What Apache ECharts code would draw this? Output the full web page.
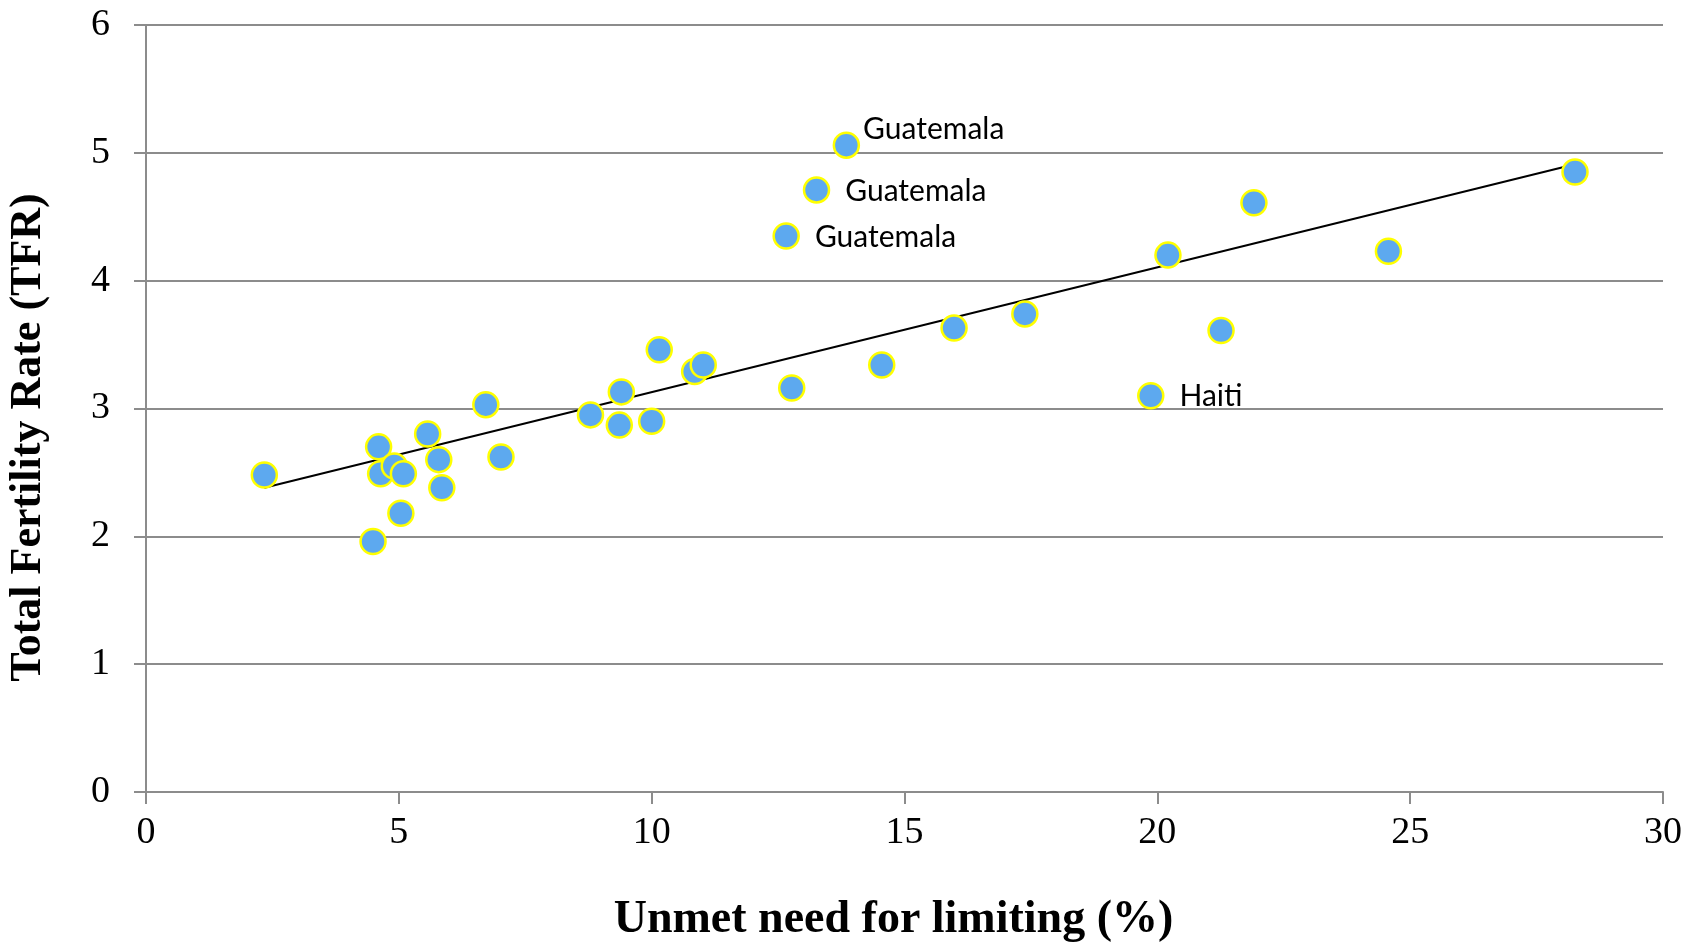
<!DOCTYPE html>
<html>
<head>
<meta charset="utf-8">
<script src="https://cdn.jsdelivr.net/npm/echarts@6/dist/echarts.min.js"></script>
<style>html,body{margin:0;padding:0;background:#fff}#c{width:1686px;height:943px}</style>
</head>
<body>
<div id="c"></div>
<script>
const unmetNeed = [2.34, 4.49, 4.60, 4.64, 4.91, 5.09, 5.04, 5.57, 5.79, 5.85, 6.72, 7.02, 8.79, 9.36, 9.40, 10.0, 10.15, 10.85, 11.02, 12.77, 12.66, 13.26, 13.85, 14.55, 15.98, 17.38, 19.87, 20.21, 21.26, 21.91, 24.57, 28.26];
const tfr = [2.48, 1.96, 2.70, 2.49, 2.55, 2.49, 2.18, 2.80, 2.60, 2.38, 3.03, 2.62, 2.95, 2.87, 3.13, 2.90, 3.46, 3.29, 3.34, 3.16, 4.35, 4.71, 5.06, 3.34, 3.63, 3.74, 3.10, 4.20, 3.61, 4.61, 4.23, 4.85];
const pointLabels = ['', '', '', '', '', '', '', '', '', '', '', '', '', '', '', '', '', '', '', '', 'Guatemala', 'Guatemala', 'Guatemala', '', '', '', 'Haiti', '', '', '', '', ''];
const trendX = [2.34, 28.26];
const trendY = [2.38, 4.91];
const xTicks = [0, 5, 10, 15, 20, 25, 30];
const yTicks = [0, 1, 2, 3, 4, 5, 6];

const chart = echarts.init(document.getElementById('c'), null, {renderer: 'canvas'});
const pts = unmetNeed.map((x, i) => {
  const lab = pointLabels[i];
  const item = {value: [x, tfr[i]], name: lab};
  if (lab) {
    const top = tfr[i] > 5;
    item.label = {
      show: true, formatter: lab, position: 'right',
      distance: top ? 3 : 15, offset: top ? [0, -16] : [0, 1],
      fontFamily: 'Lato', fontSize: 30, color: '#000'
    };
  }
  return item;
});
const gray = '#8c8c8c';
chart.setOption({
  animation: false,
  grid: {left: 146, right: 23, top: 25, bottom: 151, outerBoundsMode: 'none', containLabel: false},
  xAxis: {
    type: 'value', min: xTicks[0], max: xTicks[xTicks.length - 1], interval: 5,
    name: 'Unmet need for limiting (%)', nameLocation: 'middle', nameGap: 105,
    nameTextStyle: {fontFamily: 'Liberation Serif', fontWeight: 'bold', fontSize: 46, color: '#000', padding: [0, 22, 0, 0]},
    axisLine: {lineStyle: {color: gray, width: 2}},
    axisTick: {show: true, length: 12, lineStyle: {color: gray, width: 2}},
    axisLabel: {margin: 22, fontFamily: 'Liberation Serif', fontSize: 38, color: '#000'},
    splitLine: {show: false}
  },
  yAxis: {
    type: 'value', min: yTicks[0], max: yTicks[yTicks.length - 1], interval: 1,
    name: 'Total Fertility Rate (TFR)', nameLocation: 'middle', nameGap: 95,
    nameTextStyle: {fontFamily: 'Liberation Serif', fontWeight: 'bold', fontSize: 44, color: '#000', padding: [0, 58, 0, 0]},
    axisLine: {show: true, lineStyle: {color: gray, width: 2}},
    axisTick: {show: true, length: 12, lineStyle: {color: gray, width: 2}},
    axisLabel: {margin: 36, fontFamily: 'Liberation Serif', fontSize: 38, color: '#000'},
    splitLine: {show: true, lineStyle: {color: gray, width: 2}}
  },
  series: [
    {
      type: 'line', data: trendX.map((x, i) => [x, trendY[i]]),
      symbol: 'none', lineStyle: {color: '#000', width: 2}, z: 3, silent: true
    },
    {
      type: 'scatter', data: pts, symbol: 'circle', symbolSize: 25,
      itemStyle: {color: '#5DA9EF', borderColor: '#FFFF00', borderWidth: 2.5, opacity: 1},
      z: 4
    }
  ]
});
</script>
</body>
</html>
